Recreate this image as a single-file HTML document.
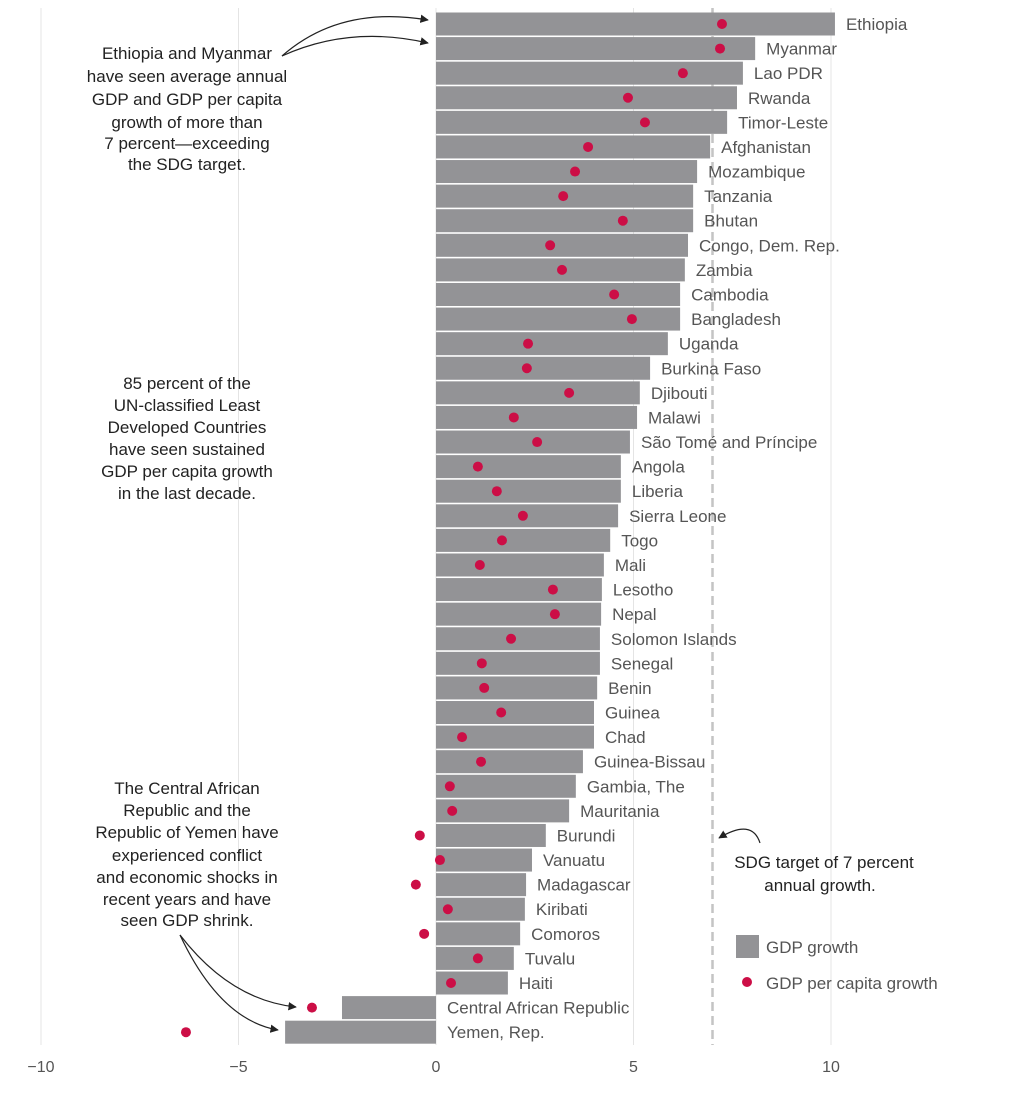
<!DOCTYPE html>
<html><head><meta charset="utf-8"><style>
body{margin:0;background:#fff;font-family:"Liberation Sans",sans-serif;}
svg text{font-family:"Liberation Sans",sans-serif;}
</style></head><body>
<svg id="chart" width="1024" height="1101" xmlns="http://www.w3.org/2000/svg">
<defs><marker id="ah" viewBox="0 0 10 10" refX="9" refY="5" markerWidth="7" markerHeight="7" orient="auto"><path d="M0,0 L10,5 L0,10 z" fill="#222"/></marker></defs>
<g id="grid"></g>
<g id="bars"></g>
<g id="dots"></g>
<g id="labels"></g>
<g id="ticks"></g>
<g font-size="17" fill="#222" text-anchor="middle">
<text x="187" y="59">Ethiopia and Myanmar</text>
<text x="187" y="82">have seen average annual</text>
<text x="187" y="105">GDP and GDP per capita</text>
<text x="187" y="128">growth of more than</text>
<text x="187" y="149">7 percent—exceeding</text>
<text x="187" y="170">the SDG target.</text>
<text x="187" y="389">85 percent of the</text>
<text x="187" y="411">UN-classified Least</text>
<text x="187" y="433">Developed Countries</text>
<text x="187" y="455">have seen sustained</text>
<text x="187" y="477">GDP per capita growth</text>
<text x="187" y="499">in the last decade.</text>
<text x="187" y="794">The Central African</text>
<text x="187" y="816">Republic and the</text>
<text x="187" y="838">Republic of Yemen have</text>
<text x="187" y="861">experienced conflict</text>
<text x="187" y="883">and economic shocks in</text>
<text x="187" y="905">recent years and have</text>
<text x="187" y="926">seen GDP shrink.</text>
<text x="824" y="868">SDG target of 7 percent</text>
<text x="820" y="891">annual growth.</text>
</g>
<g fill="none" stroke="#222" stroke-width="1.2">
<path d="M282,56 Q340,5 428,20" marker-end="url(#ah)"/>
<path d="M282,56 Q350,25 428,43" marker-end="url(#ah)"/>
<path d="M180,935 Q230,1000 296,1007" marker-end="url(#ah)"/>
<path d="M180,935 Q220,1020 278,1030" marker-end="url(#ah)"/>
<path d="M760,843 Q752,818 719,838" marker-end="url(#ah)"/>
</g>
<g>
<rect x="736" y="935" width="23" height="23" fill="#939396"/>
<text x="766" y="953" font-size="17" fill="#555">GDP growth</text>
<circle cx="747" cy="982" r="5" fill="#cc0e46"/>
<text x="766" y="989" font-size="17" fill="#555">GDP per capita growth</text>
</g>
</svg>
<script>
const countries=["Ethiopia","Myanmar","Lao PDR","Rwanda","Timor-Leste","Afghanistan","Mozambique","Tanzania","Bhutan","Congo, Dem. Rep.","Zambia","Cambodia","Bangladesh","Uganda","Burkina Faso","Djibouti","Malawi","São Tomé and Príncipe","Angola","Liberia","Sierra Leone","Togo","Mali","Lesotho","Nepal","Solomon Islands","Senegal","Benin","Guinea","Chad","Guinea-Bissau","Gambia, The","Mauritania","Burundi","Vanuatu","Madagascar","Kiribati","Comoros","Tuvalu","Haiti","Central African Republic","Yemen, Rep."];
const gdpGrowth=[10.1,8.08,7.77,7.62,7.37,6.94,6.61,6.51,6.51,6.38,6.30,6.18,6.18,5.87,5.42,5.16,5.09,4.91,4.68,4.68,4.61,4.41,4.25,4.20,4.18,4.15,4.15,4.08,4.0,4.0,3.72,3.54,3.37,2.78,2.43,2.28,2.25,2.13,1.97,1.82,-2.38,-3.82];
const perCapita=[7.24,7.19,6.25,4.86,5.29,3.85,3.52,3.22,4.73,2.89,3.19,4.51,4.96,2.33,2.30,3.37,1.97,2.56,1.06,1.54,2.20,1.67,1.11,2.96,3.01,1.90,1.16,1.22,1.65,0.66,1.14,0.35,0.41,-0.41,0.10,-0.51,0.30,-0.30,1.06,0.38,-3.14,-6.33];
const tickValues=[-10,-5,0,5,10];
const tickLabels=["−10","−5","0","5","10"];
const sdgTarget=7;
const NS="http://www.w3.org/2000/svg";
const x=v=>436+v*39.5;
const y=i=>24+i*24.59;
function mk(t,a,p){const e=document.createElementNS(NS,t);for(const k in a)e.setAttribute(k,a[k]);p.appendChild(e);return e;}
const G=document.getElementById('grid'),B=document.getElementById('bars'),D=document.getElementById('dots'),L=document.getElementById('labels'),T=document.getElementById('ticks');
tickValues.forEach((v,i)=>{
 const l=mk('line',{x1:x(v),x2:x(v),y1:8,y2:1045,stroke:'#e4e4e4','stroke-width':1},G);
 
 
 const t=mk('text',{x:x(v),y:1072,'text-anchor':'middle','font-size':16,fill:'#555'},T);
 t.textContent=tickLabels[i];
 
 
});
countries.forEach((c,i)=>{
 const v=gdpGrowth[i];
 const r=mk('rect',{x:Math.min(x(0),x(v)),y:y(i)-11.5,width:Math.abs(x(v)-x(0)),height:23,fill:'#939396'},B);
 
 
 const d=mk('circle',{cx:x(perCapita[i]),cy:y(i),r:5,fill:'#cc0e46'},D);
 
 
 const t=mk('text',{x:x(Math.max(v,0))+11,y:y(i)+6,'font-size':17,fill:'#555'},L);
 t.textContent=c;
 
 
});
const s=mk('line',{x1:x(sdgTarget),x2:x(sdgTarget),y1:8,y2:1045,stroke:'#c4c4c4','stroke-width':2.5,'stroke-dasharray':'9,5'},G);


</script>
</body></html>
